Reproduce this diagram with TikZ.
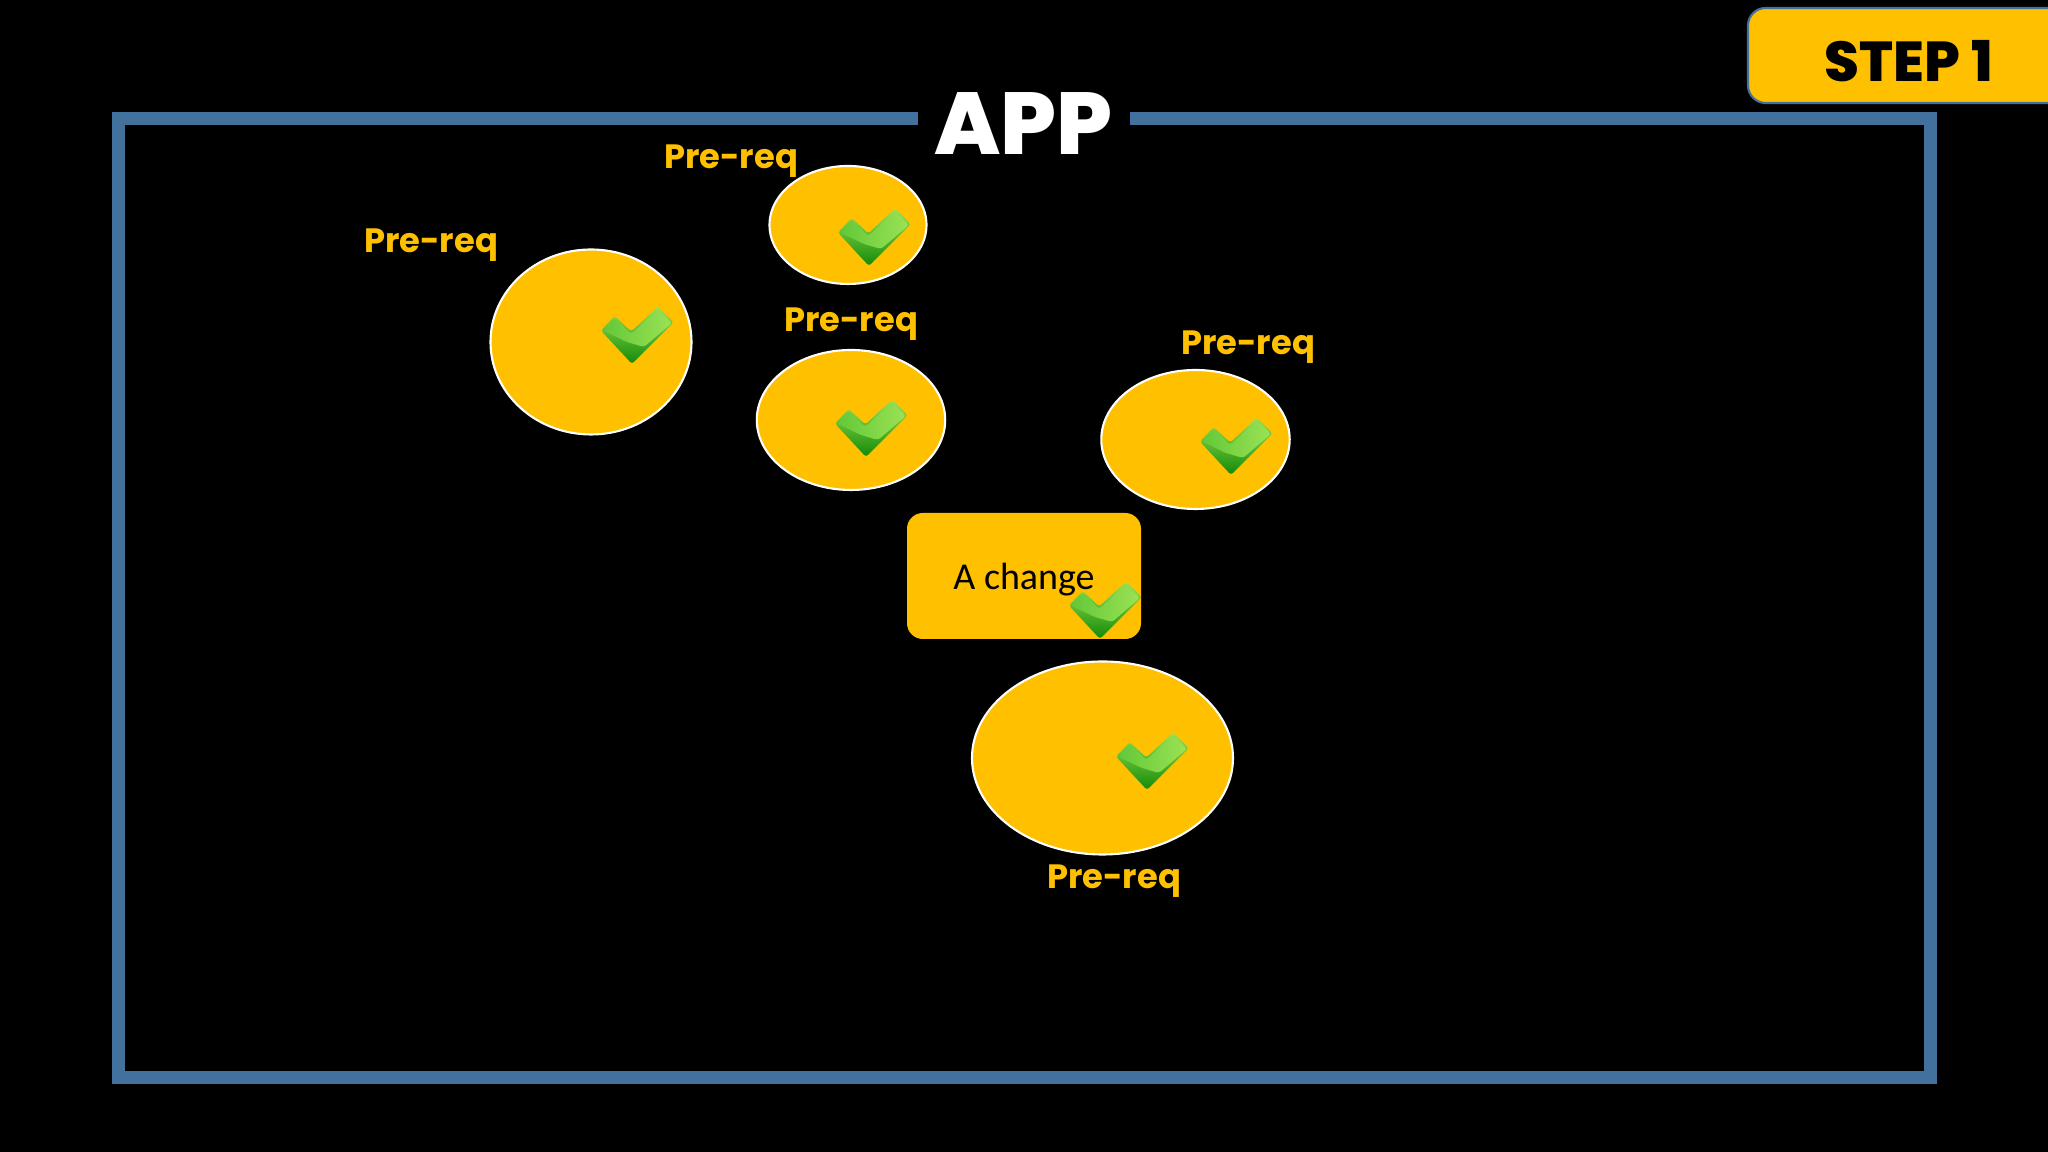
\documentclass[tikz,border=0pt]{standalone}
\usepackage{fontspec}
\setmainfont{Poppins}
\newfontfamily\headfont{Poppins ExtraBold}
\newfontfamily\changefont{Carlito}
\usetikzlibrary{%
  calc,%
  shadings%
}

\definecolor{appAmber}{HTML}{FFC000}
\definecolor{appBlue}{HTML}{41719C}
\definecolor{checkLight}{HTML}{9BE254}
\definecolor{checkMid}{HTML}{62C838}
\definecolor{checkDark}{HTML}{128A08}

\tikzset{
  prereq/.style={fill=appAmber, draw=white, line width=0.6pt},
  prereqlabel/.style={anchor=base, inner sep=0pt, text=appAmber, font=\fontsize{9.6}{11}\selectfont\bfseries},
  checkmark/.pic={
    \shade[top color=checkLight, bottom color=checkDark, rounded corners=0.8pt]
      (0,0) -- (-.31,.334) -- (-.173,.48) -- (-.007,.324) -- (.26,.574) -- (.417,.417) -- cycle;
    \shade[left color=checkMid, right color=checkLight, rounded corners=0.8pt]
      (-.29,.335) -- (-.173,.46) -- (-.007,.30) -- (.26,.55) -- (.40,.41) -- (.12,.17) -- (-.05,.22) -- cycle;
  }
}

\begin{document}
\begin{tikzpicture}
  \clip (0,0) rectangle (20.48,11.52);
  \fill[black] (0,0) rectangle (20.48,11.52);

  \draw[appBlue, line width=3.7pt] (9.18,10.335) -- (1.185,10.335) -- (1.185,0.74)
    -- (19.305,0.74) -- (19.305,10.335) -- (11.30,10.335);
  \node[inner sep=0pt, anchor=base, text=white, font=\headfont\fontsize{25}{30}\selectfont] (apptitle) at (10.235,9.97) {APP};

  \draw[fill=appAmber, draw=appBlue, line width=0.6pt, rounded corners=5pt] (17.48,10.49) rectangle (21,11.44);
  \node[inner sep=0pt, anchor=base, text=black, font=\headfont\fontsize{16}{20}\selectfont] (steplabel) at (19.09,10.70) {STEP\hspace{0.2em}1};

  \draw[prereq] (5.91,8.10) ellipse(1.005 and 0.925);
  \draw[prereq] (8.48,9.27) ellipse(0.785 and 0.59);
  \draw[prereq] (8.51,7.32) ellipse(0.942 and 0.70);
  \draw[prereq] (11.955,7.125) ellipse(0.942 and 0.695);
  \draw[prereq] (11.025,3.94) ellipse(1.305 and 0.965);

  \node[fill=appAmber, rounded corners=4.5pt, minimum width=2.34cm, minimum height=1.26cm, inner sep=0pt] (change) at (10.24,5.76) {};
  \node[inner sep=0pt, anchor=base, font=\changefont\fontsize{10.8}{13}\selectfont] (changelabel) at (10.24,5.62) {A change};

  \node[prereqlabel] (prereqa) at (7.31,9.83) {Pre-req};
  \node[prereqlabel] (prereqb) at (4.31,8.99) {Pre-req};
  \node[prereqlabel] (prereqc) at (8.51,8.20) {Pre-req};
  \node[prereqlabel] (prereqd) at (12.48,7.97) {Pre-req};
  \node[prereqlabel] (prereqe) at (11.14,2.63) {Pre-req};

  \pic at (6.32,7.88) {checkmark};
  \pic at (8.69,8.86) {checkmark};
  \pic at (8.66,6.95) {checkmark};
  \pic at (12.31,6.77) {checkmark};
  \pic at (11.00,5.13) {checkmark};
  \pic at (11.47,3.62) {checkmark};
\end{tikzpicture}
\end{document}
